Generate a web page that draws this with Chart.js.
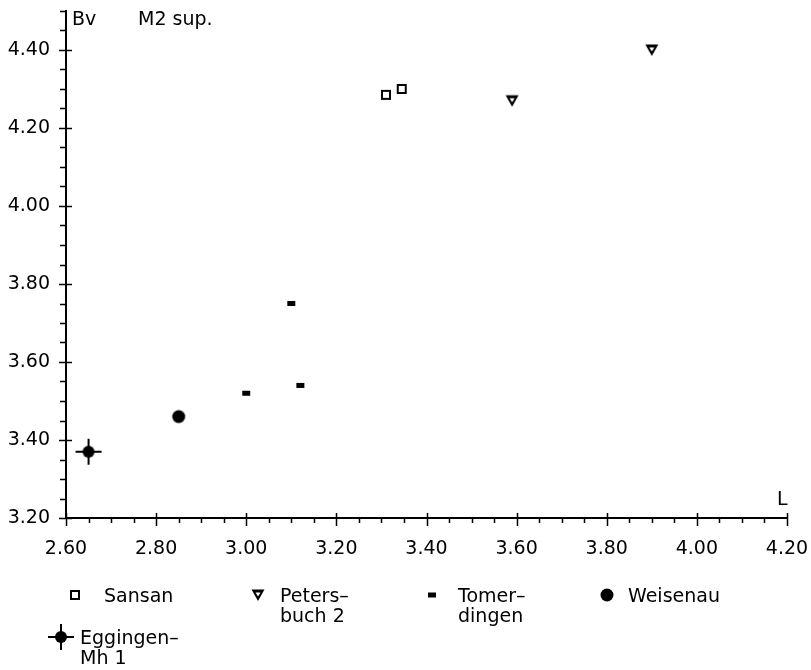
<!DOCTYPE html>
<html>
<head>
<meta charset="utf-8">
<script src="https://cdn.jsdelivr.net/npm/chart.js@4.4.1/dist/chart.umd.min.js"></script>
<style>
  html, body { margin: 0; padding: 0; background: #fff; }
  #wrap { width: 811px; height: 670px; position: relative; }
</style>
</head>
<body>
<div id="wrap"><canvas id="myChart"></canvas></div>
<script>
// data (L = length, Bv = breadth)
const seriesNames = ['Sansan', 'Petersbuch 2', 'Tomerdingen', 'Weisenau', 'Eggingen-Mh 1'];
const legendLines = [['Sansan'], ['Peters–', 'buch 2'], ['Tomer–', 'dingen'], ['Weisenau'], ['Eggingen–', 'Mh 1']];

const sansanL = [3.31, 3.345];
const sansanBv = [4.285, 4.30];
const petersL = [3.59, 3.90];
const petersBv = [4.27, 4.40];
const tomerL = [3.10, 3.00, 3.12];
const tomerBv = [3.75, 3.52, 3.54];
const weisenauL = [2.85];
const weisenauBv = [3.46];
const eggingenL = [2.65];
const eggingenBv = [3.37];

const xTickLabels = ['2.60', '2.80', '3.00', '3.20', '3.40', '3.60', '3.80', '4.00', '4.20'];
const yTickLabels = ['3.20', '3.40', '3.60', '3.80', '4.00', '4.20', '4.40'];
const xTitle = 'L';
const yTitle = 'Bv';
const chartTitle = 'M2 sup.';

const FONT = '"DejaVu Sans", sans-serif';

function toPoints(xs, ys) {
    return xs.map((x, i) => ({ x, y: ys[i] }));
}

// little marker images
function marker(w, h, draw) {
    const c = document.createElement('canvas');
    c.width = w;
    c.height = h;
    const ctx = c.getContext('2d');
    ctx.fillStyle = '#000';
    ctx.strokeStyle = '#000';
    draw(ctx);
    return c;
}

const openSquare = marker(12, 12, ctx => {
    ctx.lineWidth = 2;
    ctx.strokeRect(2, 2, 8, 8);
});
const triangle = marker(16, 14, ctx => {
    ctx.beginPath();
    ctx.moveTo(1.5, 1.5);
    ctx.lineTo(14.5, 1.5);
    ctx.lineTo(8, 13);
    ctx.closePath();
    ctx.fill();
    ctx.fillStyle = '#fff';
    ctx.beginPath();
    ctx.moveTo(5.5, 4.5);
    ctx.lineTo(10.5, 4.5);
    ctx.lineTo(8, 8.5);
    ctx.closePath();
    ctx.fill();
});
const smallBar = marker(10, 7, ctx => {
    ctx.fillRect(1, 1, 8, 5);
});
const dot = marker(16, 16, ctx => {
    ctx.beginPath();
    ctx.arc(8, 8, 6.5, 0, Math.PI * 2);
    ctx.fill();
});
const crossDot = marker(30, 30, ctx => {
    ctx.lineWidth = 2;
    ctx.beginPath();
    ctx.moveTo(2, 15);
    ctx.lineTo(28, 15);
    ctx.moveTo(15, 2);
    ctx.lineTo(15, 28);
    ctx.stroke();
    ctx.beginPath();
    ctx.arc(15, 15, 6, 0, Math.PI * 2);
    ctx.fill();
});
const markers = [openSquare, triangle, smallBar, dot, crossDot];

const datasets = [
    toPoints(sansanL, sansanBv),
    toPoints(petersL, petersBv),
    toPoints(tomerL, tomerBv),
    toPoints(weisenauL, weisenauBv),
    toPoints(eggingenL, eggingenBv)
].map((data, i) => ({
    label: seriesNames[i],
    data,
    pointStyle: markers[i],
    pointRadius: 8,
    pointHoverRadius: 8
}));

// ticks: major every 0.20, minor every 0.05
const axisTicks = {
    id: 'axisTicks',
    afterDraw(chart) {
        const { ctx, chartArea, scales: { x, y } } = chart;
        ctx.save();
        ctx.strokeStyle = '#000';
        ctx.lineWidth = 1.5;
        ctx.beginPath();
        for (let k = 0; k <= 32; k++) {
            const px = Math.round(x.getPixelForValue(2.6 + k * 0.05)) + 0.5;
            if (k % 4 === 0) {
                ctx.moveTo(px, chartArea.bottom - 5);
                ctx.lineTo(px, chartArea.bottom + 8);
            } else {
                ctx.moveTo(px, chartArea.bottom);
                ctx.lineTo(px, chartArea.bottom + 5);
            }
        }
        for (let k = 0; k <= 26; k++) {
            const py = Math.round(y.getPixelForValue(3.2 + k * 0.05)) + 0.5;
            if (k % 4 === 0) {
                ctx.moveTo(chartArea.left - 7, py);
                ctx.lineTo(chartArea.left + 6, py);
            } else {
                ctx.moveTo(chartArea.left - 6, py);
                ctx.lineTo(chartArea.left, py);
            }
        }
        ctx.stroke();

        ctx.fillStyle = '#000';
        ctx.font = '19px ' + FONT;
        ctx.textBaseline = 'alphabetic';
        ctx.fillText(yTitle, chartArea.left + 6, 25);
        ctx.fillText(chartTitle, chartArea.left + 72, 25);
        ctx.fillText(xTitle, chartArea.right - 10, chartArea.bottom - 13);
        ctx.restore();
    }
};

// legend under the plot, four columns
const legendPos = [
    { mx: 75, tx: 104, y: 602 },
    { mx: 258, tx: 280, y: 602 },
    { mx: 432, tx: 458, y: 602 },
    { mx: 607, tx: 628, y: 602 },
    { mx: 61, tx: 80, y: 644 }
];
const legendBox = {
    id: 'legendBox',
    afterDraw(chart) {
        const { ctx } = chart;
        ctx.save();
        ctx.fillStyle = '#000';
        ctx.font = '19px ' + FONT;
        ctx.textBaseline = 'alphabetic';
        legendLines.forEach((lines, i) => {
            const p = legendPos[i];
            const img = markers[i];
            ctx.drawImage(img, p.mx - img.width / 2, p.y - 7 - img.height / 2);
            lines.forEach((t, j) => ctx.fillText(t, p.tx, p.y + j * 20));
        });
        ctx.restore();
    }
};

function noPad(s) {
    s.paddingLeft = 0;
    s.paddingRight = 0;
    s.paddingTop = 0;
    s.paddingBottom = 0;
}

const canvas = document.getElementById('myChart').getContext('2d');
const myChart = new Chart(canvas, {
    type: 'scatter',
    data: { datasets },
    options: {
        responsive: true,
        maintainAspectRatio: false,
        animation: false,
        layout: { padding: { left: 0, top: 11, right: 24, bottom: 112 } },
        plugins: {
            legend: { display: false },
            tooltip: { enabled: false }
        },
        scales: {
            x: {
                type: 'linear',
                min: 2.6,
                max: 4.2,
                afterFit: s => { s.height = 40; noPad(s); },
                grid: { display: false, drawTicks: false },
                border: { display: true, color: '#000', width: 2 },
                ticks: {
                    stepSize: 0.2,
                    padding: 20,
                    maxRotation: 0,
                    color: '#000',
                    font: { family: FONT, size: 19 },
                    callback: v => xTickLabels[Math.round((v - 2.6) / 0.2)] || ''
                }
            },
            y: {
                type: 'linear',
                min: 3.2,
                max: 4.5,
                afterFit: s => { s.width = 66; noPad(s); },
                grid: { display: false, drawTicks: false },
                border: { display: true, color: '#000', width: 2 },
                ticks: {
                    stepSize: 0.2,
                    padding: 16,
                    color: '#000',
                    font: { family: FONT, size: 19 },
                    callback: v => {
                        const k = Math.round((v - 3.2) * 100);
                        return k % 20 === 0 ? (yTickLabels[k / 20] || '') : '';
                    }
                }
            }
        }
    },
    plugins: [axisTicks, legendBox]
});
</script>
</body>
</html>
